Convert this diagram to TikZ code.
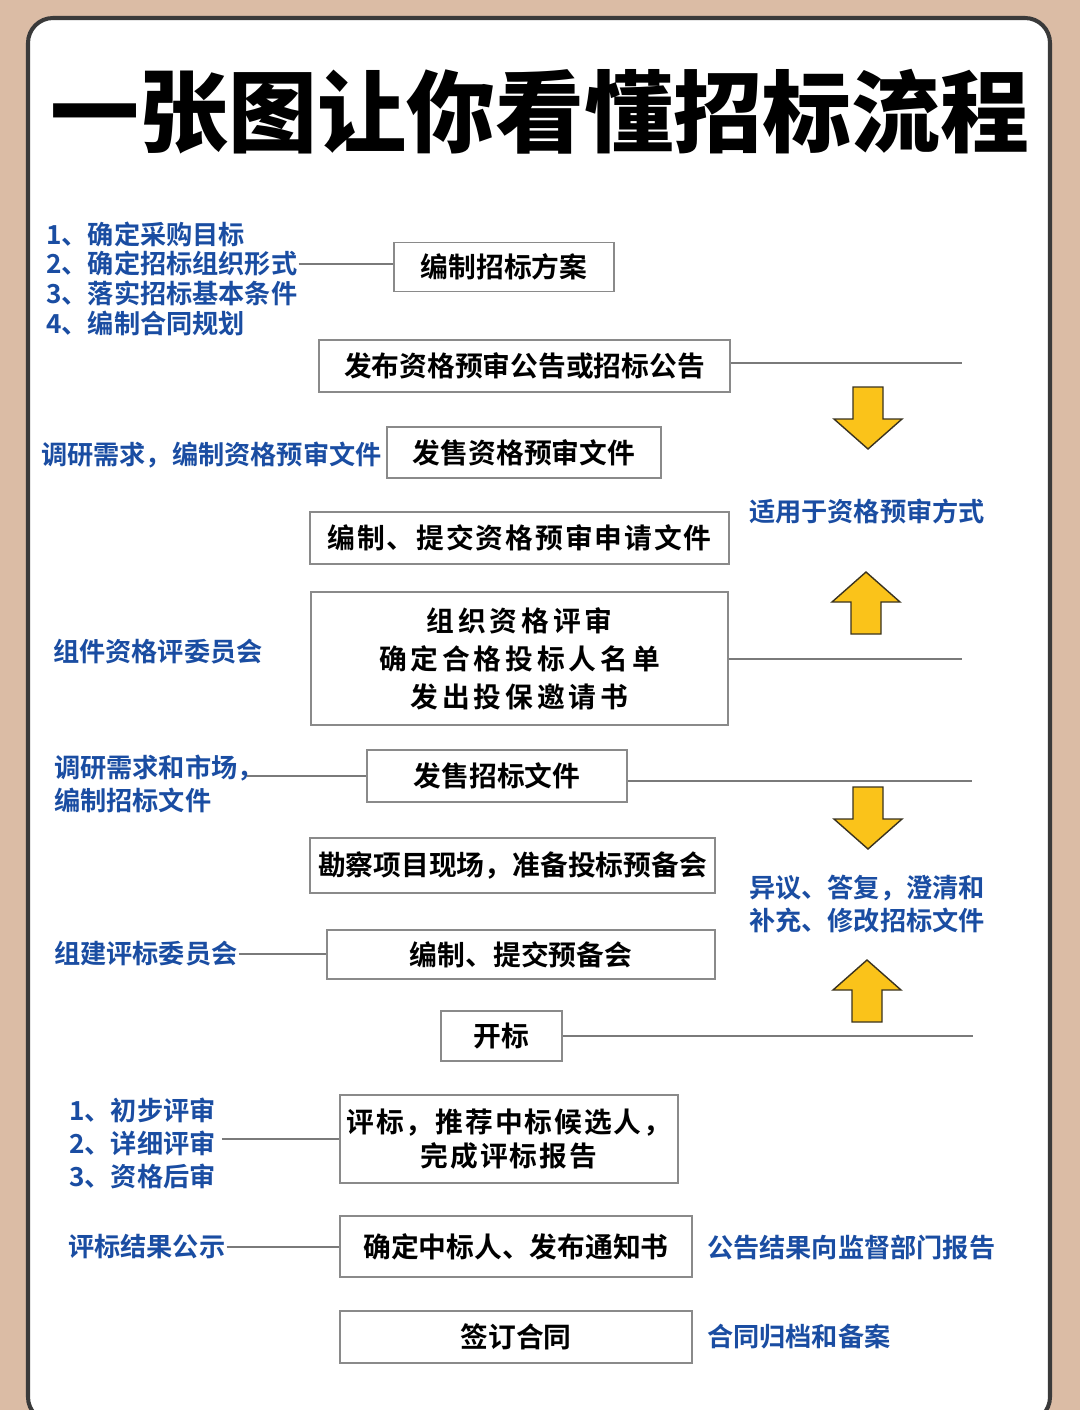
\documentclass[tikz,border=0pt]{standalone}
\usepackage{fontspec}
\newfontfamily\cjkbold{Noto Sans CJK SC Bold}
\newfontfamily\cjkblack{Noto Sans CJK SC Black}
\newfontfamily\cjkwide{Noto Sans CJK SC Bold}[LetterSpace=7]
\newfontfamily\cjkwider{Noto Sans CJK SC Bold}[LetterSpace=14]
\definecolor{tanbg}{HTML}{DBBCA5}
\definecolor{panelline}{HTML}{3A3A3A}
\definecolor{boxgray}{HTML}{8A8A8A}
\definecolor{linegray}{HTML}{7A7A7A}
\definecolor{noteblue}{HTML}{1A4DA2}
\definecolor{arrowyellow}{HTML}{FAC31A}
\definecolor{arrowedge}{HTML}{3A3320}
\tikzset{
  stage/.style={draw=boxgray, line width=0.8pt, fill=white, inner sep=0pt,
    font=\cjkbold\fontsize{15.8}{21}\selectfont},
  note/.style={text=noteblue, inner sep=0.5pt, font=\cjkbold\fontsize{14.9}{19}\selectfont},
  link/.style={draw=linegray, line width=0.8pt},
  arrowfill/.style={fill=arrowyellow, draw=arrowedge, line width=0.8pt},
  pics/yeldown/.style={code={
    \draw[arrowfill] (-15,-62) -- (15,-62) -- (15,-30) -- (34,-30) -- (0,0)
      -- (-34,-30) -- (-15,-30) -- cycle;}}
}
\begin{document}
\begin{tikzpicture}[x=0.2mm, y=-0.2mm]
    \useasboundingbox (0,0) rectangle (1080,1410);
    \clip (0,0) rectangle (1080,1410);
    \fill[tanbg] (0,0) rectangle (1080,1410);
    \draw[panelline, line width=2.3pt, fill=white, rounded corners=5mm] (28,18) rectangle (1050,1422);

    \node[font=\cjkblack\fontsize{50.6}{52}\selectfont, inner sep=0pt] (title) at (540,112) {一张图让你看懂招标流程};

    % main steps
    \node[stage, minimum width=44mm, minimum height=9.8mm] (plan) at (504,267) {编制招标方案};
    \node[stage, minimum width=82.2mm, minimum height=10.4mm] (notice) at (524.5,366) {发布资格预审公告或招标公告};
    \node[stage, minimum width=54.8mm, minimum height=10.2mm] (presale) at (524,452.5) {发售资格预审文件};
    \node[stage, minimum width=83.8mm, minimum height=10.4mm] (apply) at (519.5,538) {\cjkwide 编制、提交资格预审申请文件};
    \node[stage, minimum width=83.4mm, minimum height=26.6mm, align=center,
      font=\cjkbold\fontsize{15.8}{21.6}\selectfont] (review) at (519.5,658.5)
      {\cjkwider 组织资格评审\\\cjkwider 确定合格投标人名单\\\cjkwider 发出投保邀请书};
    \node[stage, minimum width=52mm, minimum height=10.4mm] (tender) at (497,776) {发售招标文件};
    \node[stage, minimum width=81mm, minimum height=11mm] (survey) at (512.5,865.5) {勘察项目现场，准备投标预备会};
    \node[stage, minimum width=77.6mm, minimum height=9.8mm] (prep) at (521,954.5) {编制、提交预备会};
    \node[stage, minimum width=24.2mm, minimum height=10mm] (open) at (501.5,1036) {开标};
    \node[stage, minimum width=67.6mm, minimum height=17.6mm, align=center,
      font=\cjkbold\fontsize{15.8}{19.3}\selectfont] (evaluate) at (509,1139)
      {\cjkwide 评标，推荐中标候选人，\\\cjkwide 完成评标报告};
    \node[stage, minimum width=70.4mm, minimum height=12.2mm] (award) at (516,1246.5) {确定中标人、发布通知书};
    \node[stage, minimum width=70.4mm, minimum height=10.4mm] (sign) at (516,1337) {签订合同};

    % notes on the left
    \node[note, anchor=west] (list1) at (45,234) {1、确定采购目标};
    \node[note, anchor=west] (list2) at (45,264) {2、确定招标组织形式};
    \node[note, anchor=west] (list3) at (45,293) {3、落实招标基本条件};
    \node[note, anchor=west] (list4) at (45,323) {4、编制合同规划};
    \node[note, anchor=west] (research) at (40,455) {调研需求，编制资格预审文件};
    \node[note, anchor=west] (committee) at (52,652) {组件资格评委员会};
    \node[note, anchor=west] (market1) at (53,768) {调研需求和市场，};
    \node[note, anchor=west] (market2) at (53,800) {编制招标文件};
    \node[note, anchor=west] (panel) at (53,954) {组建评标委员会};
    \node[note, anchor=west] (rev1) at (68,1110) {1、初步评审};
    \node[note, anchor=west] (rev2) at (68,1143) {2、详细评审};
    \node[note, anchor=west] (rev3) at (68,1176) {3、资格后审};
    \node[note, anchor=west] (publicity) at (67,1247) {评标结果公示};

    % notes on the right
    \node[note] (prequal) at (867,511) {适用于资格预审方式};
    \node[note, align=center, font=\cjkbold\fontsize{14.9}{18.8}\selectfont] (clarify) at (867,904)
      {异议、答复，澄清和\\补充、修改招标文件};
    \node[note, anchor=west] (report) at (706,1247) {公告结果向监督部门报告};
    \node[note, anchor=west] (archive) at (706,1337) {合同归档和备案};

    % connectors
    \coordinate (end1) at (962,363);
    \coordinate (end2) at (962,659);
    \coordinate (end3) at (972,781);
    \coordinate (end4) at (973,1036);
    \draw[link] (list2.east) -- (list2.east -| plan.west);
    \draw[link] (end1 -| notice.east) -- (end1);
    \draw[link] (end2 -| review.east) -- (end2);
    \draw[link] ([xshift=-3.6mm]tender.west -| market1.east) -- (tender.west);
    \draw[link] (end3 -| tender.east) -- (end3);
    \draw[link] (panel.east) -- (panel.east -| prep.west);
    \draw[link] (open.east) -- (end4);
    \draw[link] ([xshift=1mm]evaluate.west -| rev2.east) -- (evaluate.west);
    \draw[link] (publicity.east) -- (publicity.east -| award.west);

    % yellow arrows
    \pic at (868,449) {yeldown};
    \pic[rotate=180] at (866,572) {yeldown};
    \pic at (868,849) {yeldown};
    \pic[rotate=180] at (867,960) {yeldown};
\end{tikzpicture}
\end{document}
